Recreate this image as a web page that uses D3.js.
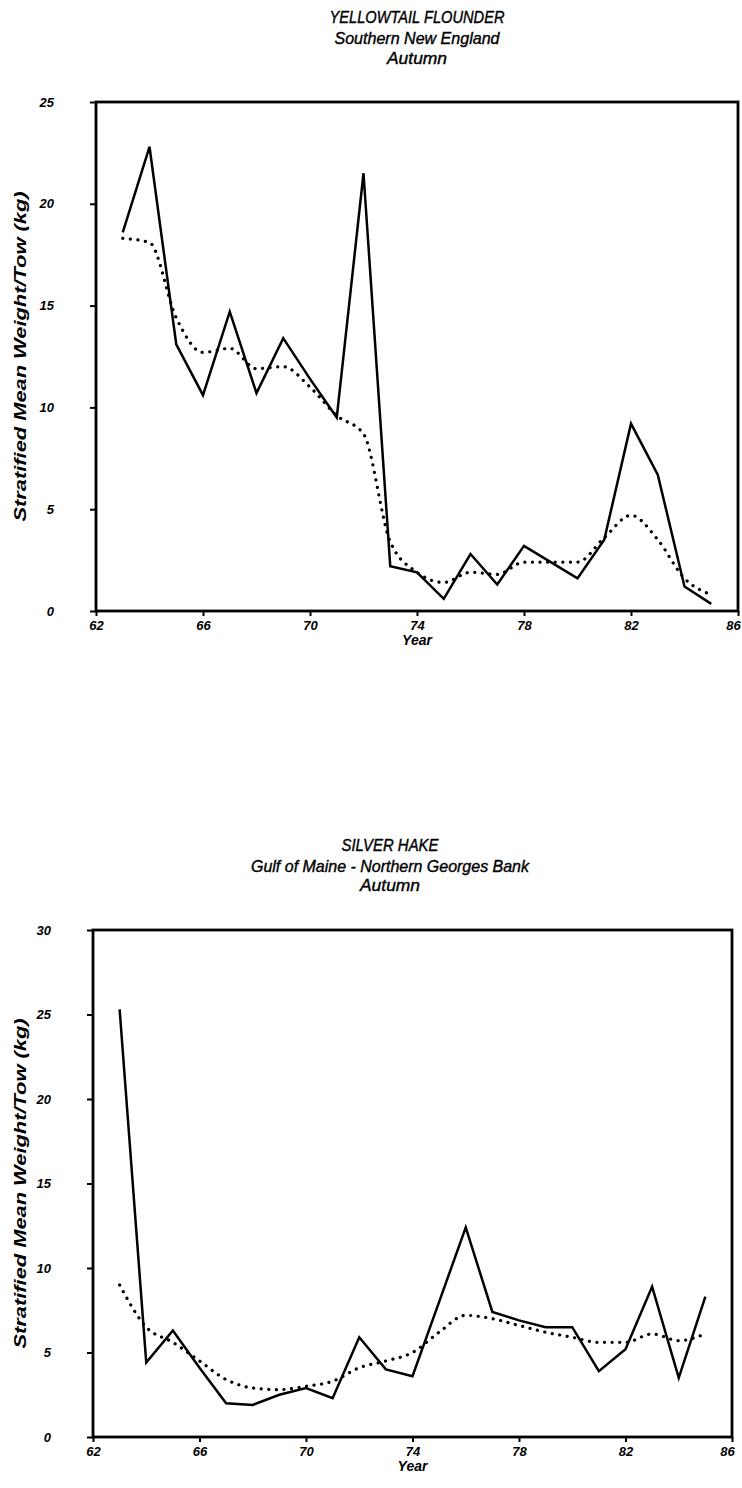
<!DOCTYPE html>
<html><head><meta charset="utf-8">
<script src="https://cdn.jsdelivr.net/npm/d3@7"></script>
<style>
body{margin:0;background:#fff;}
svg text{font-family:"Liberation Sans",Arial,sans-serif;font-style:italic;fill:#000;}
</style></head>
<body><svg id="c" width="742" height="1488"></svg>
<script>
const years = [63,64,65,66,67,68,69,70,71,72,73,74,75,76,77,78,79,80,81,82,83,84,85];
const yellowtailObserved = [18.6,22.8,13.1,10.6,14.7,10.7,13.4,11.4,9.5,21.5,2.2,1.9,0.6,2.8,1.3,3.2,2.4,1.6,3.5,9.2,6.7,1.2,0.35];
const yellowtailSmoothed = [18.3,18.1,14.4,12.7,12.9,11.9,12.0,11.0,9.6,8.7,3.4,1.9,1.4,1.9,1.8,2.4,2.4,2.4,3.6,4.7,3.5,1.6,0.8];
const hakeObserved = [25.3,4.4,6.3,4.1,2.0,1.9,2.5,2.9,2.3,5.9,4.0,3.6,8.0,12.4,7.4,6.9,6.5,6.5,3.9,5.2,8.9,3.5,8.3];
const hakeSmoothed = [9.0,6.5,5.6,4.5,3.4,2.9,2.8,3.0,3.3,4.1,4.5,5.0,6.2,7.2,7.0,6.6,6.2,5.9,5.6,5.6,6.1,5.7,6.1];
const xTicks = [62,66,70,74,78,82,86];
const yTicksTop = [0,5,10,15,20,25];
const yTicksBottom = [0,5,10,15,20,25,30];
const titlesTop = ["YELLOWTAIL FLOUNDER","Southern New England","Autumn"];
const titlesBottom = ["SILVER HAKE","Gulf of Maine - Northern Georges Bank","Autumn"];
const yTitle = "Stratified Mean Weight/Tow (kg)";
const xTitle = "Year";

const svg = d3.select("#c");

function panel(cfg){
  const x = d3.scaleLinear().domain([62,86]).range([cfg.left,cfg.right]);
  const y = d3.scaleLinear().domain([0,cfg.ymax]).range([cfg.bottom,cfg.top]);
  const g = svg.append("g");
  cfg.titles.forEach((t,i)=>{
    g.append("text").attr("x",cfg.tx).attr("y",cfg.ty[i]).attr("text-anchor","middle")
     .attr("font-size",17).attr("stroke","#000").attr("stroke-width",0.4)
     .attr("textLength",cfg.tl[i]).attr("lengthAdjust","spacingAndGlyphs").text(t);
  });
  const ya = g.append("g").attr("transform",`translate(${cfg.left},0)`)
    .call(d3.axisLeft(y).tickValues(cfg.yticks).tickSize(6).tickPadding(36).tickFormat(d3.format("d")));
  const xa = g.append("g").attr("transform",`translate(0,${cfg.bottom})`)
    .call(d3.axisBottom(x).tickValues(xTicks).tickSize(5).tickPadding(5).tickFormat(d3.format("d")));
  [ya,xa].forEach(a=>{
    a.select(".domain").remove();
    a.selectAll(".tick line").attr("stroke","#000").attr("stroke-width",2);
    a.selectAll(".tick text").attr("font-size",13).attr("font-weight","bold").attr("font-family","Liberation Sans, Arial, sans-serif").attr("font-style","italic");
  });
  xa.selectAll(".tick text").filter(d=>d===86).attr("dx",-5);
  g.append("rect").attr("x",cfg.left).attr("y",cfg.top).attr("width",cfg.right-cfg.left).attr("height",cfg.bottom-cfg.top)
    .attr("fill","none").attr("stroke","#000").attr("stroke-width",2.8);
  const lineS = d3.line().x((d,i)=>x(years[i])).y(d=>y(d));
  const lineD = d3.line().x((d,i)=>x(years[i])).y(d=>y(d)).curve(d3.curveMonotoneX);
  g.append("path").datum(cfg.obs).attr("d",lineS).attr("fill","none").attr("stroke","#000").attr("stroke-width",2.5);
  g.append("path").datum(cfg.sm).attr("d",lineD).attr("fill","none").attr("stroke","#000").attr("stroke-width",3.2)
    .attr("stroke-linecap","round").attr("stroke-dasharray","0.1 7.5");
  g.append("text").attr("x",(cfg.left+cfg.right)/2).attr("y",cfg.bottom+34).attr("text-anchor","middle")
    .attr("font-size",14).attr("font-weight","bold").text(xTitle);
  g.append("text").attr("transform",`translate(26,${(cfg.top+cfg.bottom)/2}) rotate(-90)`).attr("text-anchor","middle")
    .attr("font-size",16).attr("font-weight","bold").attr("textLength",330).attr("lengthAdjust","spacingAndGlyphs").text(yTitle);
}

panel({left:96,right:738,top:102,bottom:611,ymax:25,yticks:yTicksTop,obs:yellowtailObserved,sm:yellowtailSmoothed,
  titles:titlesTop,tx:417,ty:[23,44,64],tl:[175,165,60]});
panel({left:93,right:732,top:930,bottom:1437,ymax:30,yticks:yTicksBottom,obs:hakeObserved,sm:hakeSmoothed,
  titles:titlesBottom,tx:390,ty:[851,872,891],tl:[97,278,60]});
</script></body></html>
